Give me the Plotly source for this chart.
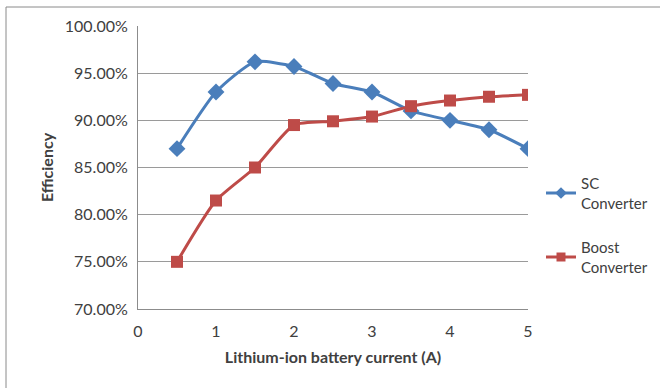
import plotly.graph_objects as go

# Battery current (A)
current = [0.5, 1.0, 1.5, 2.0, 2.5, 3.0, 3.5, 4.0, 4.5, 5.0]
# Converter efficiency (fraction)
sc_eff = [0.870, 0.930, 0.962, 0.957, 0.939, 0.930, 0.910, 0.900, 0.890, 0.870]
boost_eff = [0.750, 0.815, 0.850, 0.895, 0.899, 0.904, 0.915, 0.921, 0.925, 0.927]

series_names = ["SC<br>Converter", "Boost<br>Converter"]
y_ticks = [0.70, 0.75, 0.80, 0.85, 0.90, 0.95, 1.00]
x_ticks = [0, 1, 2, 3, 4, 5]

W, H = 660, 388
L, R, T, B = 138, 132, 26, 79

FONT = "Lato, Carlito, Calibri, sans-serif"
TXT = "#404040"
BLUE = "#4A7EBB"
RED = "#BE4B48"

fig = go.Figure()
# Data series (legend entries drawn separately with smaller symbols)
fig.add_trace(go.Scatter(
    x=current, y=sc_eff, name=series_names[0], showlegend=False,
    mode="lines+markers", line=dict(color=BLUE, width=3, shape="spline", smoothing=0.6),
    marker=dict(symbol="diamond", size=13, color=BLUE),
))
fig.add_trace(go.Scatter(
    x=current, y=boost_eff, name=series_names[1], showlegend=False,
    mode="lines+markers", line=dict(color=RED, width=3, shape="spline", smoothing=0.6),
    marker=dict(symbol="square", size=12, color=RED),
))
# Legend keys
fig.add_trace(go.Scatter(
    x=[None], y=[None], name=series_names[0], legendgroup="sc", mode="lines+markers",
    line=dict(color=BLUE, width=3), marker=dict(symbol="diamond", size=9, color=BLUE),
))
fig.add_trace(go.Scatter(
    x=[None], y=[None], name=series_names[1], legendgroup="boost", mode="lines+markers",
    line=dict(color=RED, width=3), marker=dict(symbol="square", size=9, color=RED),
))

pw = W - L - R
ph = H - T - B

def px_x(p):
    return (p - L) / pw

def px_y(p):
    return 1 - (p - T) / ph

fig.update_layout(
    width=W, height=H,
    margin=dict(l=L, r=R, t=T, b=B, autoexpand=False),
    paper_bgcolor="white", plot_bgcolor="white",
    font=dict(family=FONT, size=16, color=TXT),
    xaxis=dict(
        range=[0, 5], tickvals=x_ticks, ticks="", showgrid=False,
        showline=True, linecolor="#8c8c8c", linewidth=1, zeroline=False,
        tickfont=dict(size=16), ticklabelstandoff=8,
        title=dict(text="<b>Lithium-ion battery current (A)</b>", font=dict(size=16, color=TXT), standoff=12),
    ),
    yaxis=dict(
        range=[0.70, 1.00], tickvals=y_ticks, tickformat=".2%", ticks="",
        showgrid=True, gridcolor="#9a9a9a", gridwidth=1,
        showline=True, linecolor="#8c8c8c", linewidth=1, zeroline=False,
        tickfont=dict(size=16), ticklabelstandoff=6,
        title=dict(text="<b>Efficiency</b>", font=dict(size=16, color=TXT), standoff=7),
    ),
    legend=dict(
        x=px_x(541), y=px_y(167), xanchor="left", yanchor="top",
        font=dict(size=15, color=TXT), bgcolor="rgba(0,0,0,0)",
        tracegroupgap=22, itemwidth=30,
    ),
    shapes=[dict(
        type="rect", xref="paper", yref="paper",
        x0=px_x(6), x1=px_x(700), y0=px_y(420), y1=px_y(7),
        line=dict(color="#8a8a8a", width=1), fillcolor="rgba(0,0,0,0)", layer="below",
    )],
)

fig.write_html("out.html")
